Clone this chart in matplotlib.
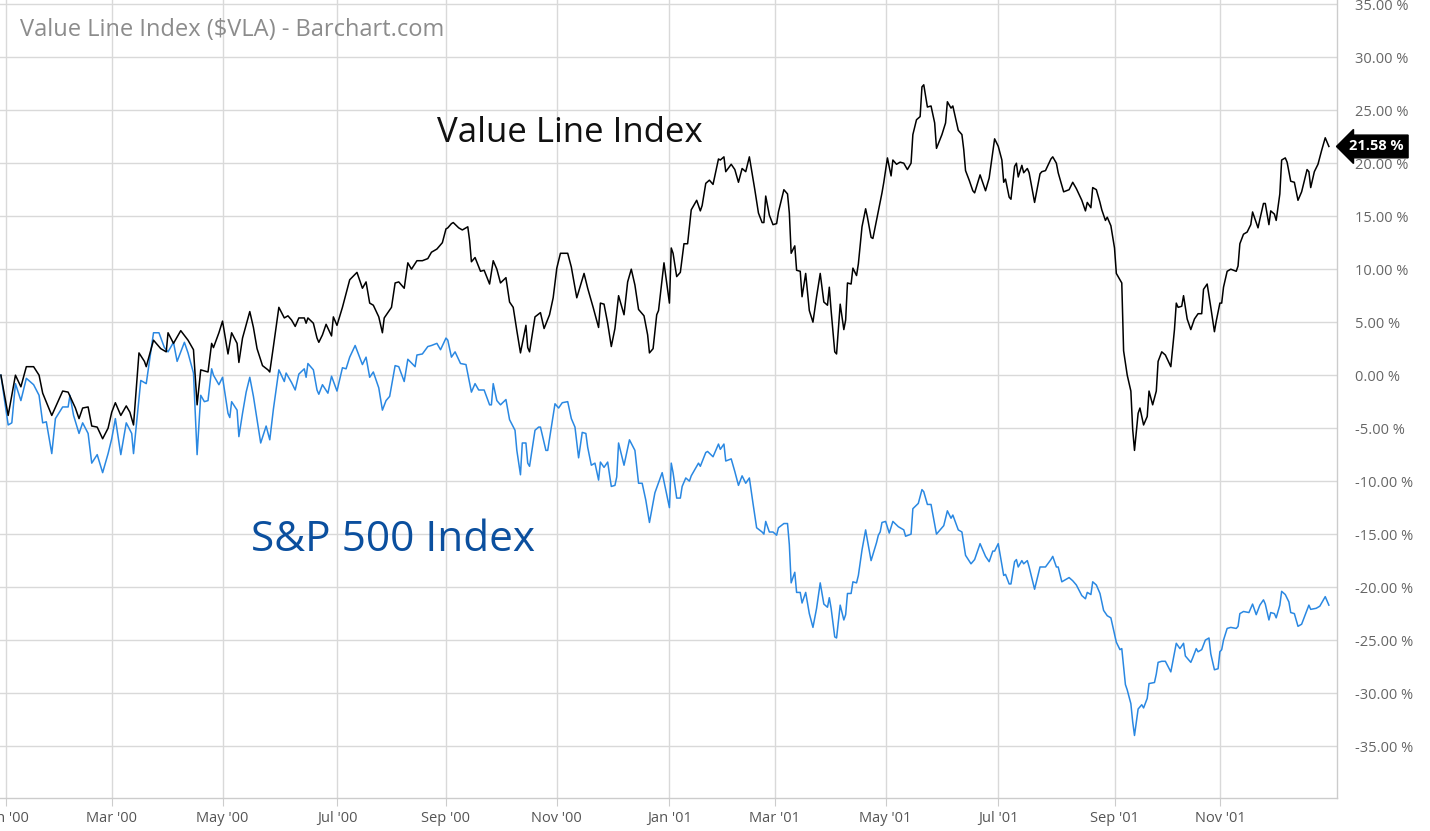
import pandas as pd
import matplotlib
matplotlib.use("Agg")
import matplotlib.pyplot as plt
import matplotlib.dates as mdates
from matplotlib.ticker import FuncFormatter, MultipleLocator
import matplotlib.transforms as mtransforms

plt.rcParams['font.family'] = ['Open Sans', 'DejaVu Sans']

# Value Line Index, % change since 1999-12-31
vla_dates = [
    '1999-12-31', '2000-01-04', '2000-01-08', '2000-01-11', '2000-01-14', '2000-01-18', '2000-01-21',
    '2000-01-23', '2000-01-28', '2000-02-03', '2000-02-06', '2000-02-10', '2000-02-12', '2000-02-14',
    '2000-02-17', '2000-02-19', '2000-02-22', '2000-02-25', '2000-02-28', '2000-03-01', '2000-03-03',
    '2000-03-06', '2000-03-09', '2000-03-11', '2000-03-13', '2000-03-16', '2000-03-19', '2000-03-20',
    '2000-03-24', '2000-03-28', '2000-03-31', '2000-04-01', '2000-04-04', '2000-04-08', '2000-04-12',
    '2000-04-15', '2000-04-17', '2000-04-19', '2000-04-23', '2000-04-25', '2000-04-26', '2000-04-29',
    '2000-05-01', '2000-05-04', '2000-05-06', '2000-05-09', '2000-05-10', '2000-05-12', '2000-05-16',
    '2000-05-18', '2000-05-20', '2000-05-23', '2000-05-26', '2000-05-27', '2000-05-29', '2000-06-01',
    '2000-06-04', '2000-06-06', '2000-06-08', '2000-06-10', '2000-06-12', '2000-06-15', '2000-06-16',
    '2000-06-17', '2000-06-20', '2000-06-22', '2000-06-23', '2000-06-25', '2000-06-27', '2000-06-30',
    '2000-07-01', '2000-07-03', '2000-07-06', '2000-07-08', '2000-07-10', '2000-07-14', '2000-07-17',
    '2000-07-19', '2000-07-21', '2000-07-23', '2000-07-26', '2000-07-28', '2000-07-29', '2000-08-02',
    '2000-08-04', '2000-08-06', '2000-08-09', '2000-08-11', '2000-08-13', '2000-08-16', '2000-08-19',
    '2000-08-22', '2000-08-24', '2000-08-27', '2000-08-30', '2000-09-01', '2000-09-02', '2000-09-04',
    '2000-09-05', '2000-09-08', '2000-09-10', '2000-09-13', '2000-09-14', '2000-09-15', '2000-09-17',
    '2000-09-20', '2000-09-22', '2000-09-25', '2000-09-27', '2000-09-29', '2000-10-01', '2000-10-04',
    '2000-10-06', '2000-10-08', '2000-10-10', '2000-10-12', '2000-10-15', '2000-10-16', '2000-10-17',
    '2000-10-20', '2000-10-23', '2000-10-25', '2000-10-28', '2000-10-30', '2000-11-01', '2000-11-03',
    '2000-11-07', '2000-11-09', '2000-11-12', '2000-11-16', '2000-11-18', '2000-11-21', '2000-11-24',
    '2000-11-25', '2000-11-27', '2000-11-29', '2000-12-01', '2000-12-03', '2000-12-05', '2000-12-08',
    '2000-12-10', '2000-12-12', '2000-12-14', '2000-12-16', '2000-12-19', '2000-12-21', '2000-12-22',
    '2000-12-24', '2000-12-26', '2000-12-27', '2000-12-30', '2001-01-02', '2001-01-03', '2001-01-04',
    '2001-01-06', '2001-01-08', '2001-01-10', '2001-01-12', '2001-01-14', '2001-01-17', '2001-01-19',
    '2001-01-20', '2001-01-22', '2001-01-24', '2001-01-26', '2001-01-29', '2001-01-30', '2001-02-01',
    '2001-02-02', '2001-02-05', '2001-02-07', '2001-02-09', '2001-02-11', '2001-02-13', '2001-02-15',
    '2001-02-18', '2001-02-20', '2001-02-22', '2001-02-23', '2001-02-24', '2001-02-26', '2001-02-28',
    '2001-03-02', '2001-03-03', '2001-03-06', '2001-03-08', '2001-03-09', '2001-03-10', '2001-03-12',
    '2001-03-13', '2001-03-15', '2001-03-16', '2001-03-18', '2001-03-20', '2001-03-22', '2001-03-24',
    '2001-03-26', '2001-03-28', '2001-03-30', '2001-03-31', '2001-04-01', '2001-04-03', '2001-04-04',
    '2001-04-06', '2001-04-08', '2001-04-09', '2001-04-10', '2001-04-12', '2001-04-13', '2001-04-15',
    '2001-04-16', '2001-04-18', '2001-04-20', '2001-04-21', '2001-04-23', '2001-04-24', '2001-04-26',
    '2001-04-27', '2001-04-29', '2001-04-30', '2001-05-02', '2001-05-04', '2001-05-05', '2001-05-07',
    '2001-05-09', '2001-05-11', '2001-05-13', '2001-05-15', '2001-05-16', '2001-05-18', '2001-05-20',
    '2001-05-21', '2001-05-22', '2001-05-24', '2001-05-26', '2001-05-28', '2001-05-29', '2001-06-01',
    '2001-06-03', '2001-06-04', '2001-06-06', '2001-06-07', '2001-06-10', '2001-06-12', '2001-06-13',
    '2001-06-14', '2001-06-16', '2001-06-18', '2001-06-19', '2001-06-22', '2001-06-25', '2001-06-27',
    '2001-06-30', '2001-07-02', '2001-07-04', '2001-07-05', '2001-07-06', '2001-07-08', '2001-07-09',
    '2001-07-11', '2001-07-12', '2001-07-13', '2001-07-15', '2001-07-16', '2001-07-18', '2001-07-19',
    '2001-07-22', '2001-07-25', '2001-07-26', '2001-07-28', '2001-07-31', '2001-08-01', '2001-08-03',
    '2001-08-04', '2001-08-07', '2001-08-10', '2001-08-12', '2001-08-14', '2001-08-17', '2001-08-19',
    '2001-08-20', '2001-08-22', '2001-08-23', '2001-08-25', '2001-08-27', '2001-08-28', '2001-08-30',
    '2001-08-31', '2001-09-02', '2001-09-04', '2001-09-05', '2001-09-08', '2001-09-09', '2001-09-11',
    '2001-09-13', '2001-09-14', '2001-09-15', '2001-09-17', '2001-09-18', '2001-09-20', '2001-09-22',
    '2001-09-23', '2001-09-25', '2001-09-27', '2001-09-28', '2001-09-30', '2001-10-02', '2001-10-05',
    '2001-10-07', '2001-10-08', '2001-10-09', '2001-10-11', '2001-10-12', '2001-10-14', '2001-10-16',
    '2001-10-18', '2001-10-20', '2001-10-22', '2001-10-23', '2001-10-25', '2001-10-27', '2001-10-29',
    '2001-10-30', '2001-11-01', '2001-11-02', '2001-11-03', '2001-11-05', '2001-11-07', '2001-11-10',
    '2001-11-11', '2001-11-12', '2001-11-14', '2001-11-16', '2001-11-18', '2001-11-19', '2001-11-22',
    '2001-11-23', '2001-11-25', '2001-11-26', '2001-11-28', '2001-11-29', '2001-12-01', '2001-12-02',
    '2001-12-04', '2001-12-05', '2001-12-07', '2001-12-08', '2001-12-10', '2001-12-12', '2001-12-14',
    '2001-12-16', '2001-12-19', '2001-12-20', '2001-12-21', '2001-12-23', '2001-12-25', '2001-12-27',
    '2001-12-29', '2001-12-31',
]
vla_pct = [
    0.0, -3.8, 0.0, -1.1, 0.8, 0.8, 0.0,
    -1.7, -3.8, -1.5, -1.6, -3.1, -4.1, -3.1,
    -3.0, -4.8, -4.9, -6.0, -5.0, -3.5, -2.6,
    -3.8, -2.9, -3.5, -4.7, 2.1, 1.3, 0.8,
    3.3, 2.5, 2.2, 4.0, 3.0, 4.2, 3.3,
    2.4, -2.8, 0.5, 0.3, 3.0, 2.6, 4.0,
    5.1, 2.0, 4.0, 3.0, 1.2, 3.5, 6.0,
    4.5, 2.5, 0.9, 0.5, 0.3, 2.7, 6.4,
    5.4, 5.6, 5.2, 4.6, 5.4, 5.4, 4.9,
    5.4, 4.9, 3.5, 3.1, 3.8, 4.8, 3.7,
    5.5, 4.7, 6.4, 7.7, 9.0, 9.7, 8.2,
    8.8, 6.8, 6.6, 5.5, 4.0, 5.4, 6.4,
    8.7, 8.8, 8.2, 10.6, 10.0, 10.8, 10.8,
    11.0, 11.6, 11.9, 12.5, 13.8, 13.9, 14.3,
    14.4, 13.9, 13.7, 14.0, 12.7, 10.7, 11.1,
    9.8, 9.9, 8.6, 10.8, 10.0, 8.7, 9.2,
    6.9, 6.4, 4.2, 2.1, 4.7, 2.6, 2.2,
    5.5, 5.9, 4.4, 5.7, 7.3, 10.1, 11.5,
    11.5, 10.2, 7.3, 9.6, 8.2, 6.4, 4.5,
    6.8, 6.7, 4.9, 2.7, 4.4, 7.5, 5.7,
    8.8, 10.0, 8.5, 6.2, 5.6, 3.8, 2.1,
    2.5, 5.7, 6.1, 10.6, 6.8, 12.0, 11.5,
    9.3, 9.7, 12.4, 12.4, 15.6, 16.5, 15.5,
    16.0, 18.1, 18.4, 18.0, 20.4, 20.3, 20.6,
    19.2, 19.9, 19.4, 18.2, 19.5, 19.2, 20.6,
    17.5, 15.3, 14.4, 14.4, 16.9, 15.1, 14.2,
    14.3, 15.4, 17.5, 17.1, 15.3, 11.5, 12.2,
    9.9, 9.8, 7.4, 9.6, 6.1, 5.0, 7.4,
    9.6, 6.9, 6.6, 8.3, 6.1, 2.2, 2.0,
    6.7, 4.3, 5.2, 8.7, 8.6, 10.1, 9.4,
    10.5, 14.0, 15.7, 14.9, 13.0, 12.9, 14.6,
    15.4, 17.2, 18.2, 20.5, 18.8, 20.3, 19.9,
    20.1, 20.0, 19.4, 20.0, 22.7, 24.1, 24.4,
    27.2, 27.4, 25.3, 25.4, 23.8, 21.4, 22.7,
    23.8, 25.8, 25.2, 25.4, 23.1, 22.7, 21.3,
    19.3, 18.4, 17.4, 17.2, 18.9, 17.4, 18.6,
    22.3, 21.6, 20.3, 18.2, 18.5, 16.8, 16.6,
    19.7, 20.0, 18.7, 19.8, 19.1, 19.5, 19.1,
    16.3, 19.0, 19.2, 19.3, 20.4, 20.6, 20.0,
    19.1, 17.3, 17.5, 18.2, 17.6, 16.5, 15.5,
    16.3, 15.8, 17.7, 17.5, 16.3, 15.6, 14.6,
    14.9, 14.1, 12.0, 9.6, 8.7, 2.3, 0.0,
    -1.5, -5.1, -7.1, -3.6, -3.1, -4.7, -3.9,
    -1.5, -2.8, -1.5, 1.3, 2.2, 1.9, 0.8,
    4.3, 6.8, 6.4, 6.5, 7.5, 5.3, 4.3,
    5.3, 5.8, 5.8, 8.1, 8.6, 6.4, 4.1,
    5.1, 6.8, 6.8, 8.3, 9.8, 10.0, 9.8,
    10.3, 12.4, 13.3, 13.5, 14.2, 15.4, 13.9,
    14.7, 16.2, 16.2, 14.2, 15.5, 15.2, 14.6,
    17.1, 20.3, 20.5, 20.1, 18.3, 18.2, 16.5,
    17.3, 19.4, 19.2, 17.7, 19.2, 19.9, 21.2,
    22.4, 21.58,
]

# S&P 500 Index, % change since 1999-12-31
spx_dates = [
    '1999-12-31', '2000-01-04', '2000-01-06', '2000-01-08', '2000-01-11', '2000-01-14', '2000-01-18',
    '2000-01-21', '2000-01-23', '2000-01-25', '2000-01-28', '2000-01-30', '2000-02-03', '2000-02-06',
    '2000-02-07', '2000-02-09', '2000-02-12', '2000-02-14', '2000-02-17', '2000-02-19', '2000-02-22',
    '2000-02-25', '2000-02-28', '2000-03-01', '2000-03-03', '2000-03-06', '2000-03-09', '2000-03-12',
    '2000-03-13', '2000-03-17', '2000-03-20', '2000-03-24', '2000-03-27', '2000-03-30', '2000-04-01',
    '2000-04-04', '2000-04-06', '2000-04-10', '2000-04-12', '2000-04-15', '2000-04-17', '2000-04-19',
    '2000-04-21', '2000-04-23', '2000-04-25', '2000-04-26', '2000-04-29', '2000-05-01', '2000-05-04',
    '2000-05-05', '2000-05-06', '2000-05-09', '2000-05-10', '2000-05-12', '2000-05-14', '2000-05-16',
    '2000-05-18', '2000-05-20', '2000-05-22', '2000-05-25', '2000-05-27', '2000-05-29', '2000-06-01',
    '2000-06-04', '2000-06-05', '2000-06-08', '2000-06-10', '2000-06-12', '2000-06-15', '2000-06-16',
    '2000-06-17', '2000-06-20', '2000-06-22', '2000-06-23', '2000-06-25', '2000-06-28', '2000-06-30',
    '2000-07-03', '2000-07-06', '2000-07-08', '2000-07-10', '2000-07-13', '2000-07-17', '2000-07-19',
    '2000-07-21', '2000-07-23', '2000-07-26', '2000-07-28', '2000-07-30', '2000-08-01', '2000-08-04',
    '2000-08-06', '2000-08-09', '2000-08-11', '2000-08-15', '2000-08-16', '2000-08-19', '2000-08-22',
    '2000-08-24', '2000-08-27', '2000-08-29', '2000-09-01', '2000-09-02', '2000-09-04', '2000-09-06',
    '2000-09-09', '2000-09-12', '2000-09-15', '2000-09-17', '2000-09-19', '2000-09-22', '2000-09-25',
    '2000-09-26', '2000-09-27', '2000-09-29', '2000-10-01', '2000-10-04', '2000-10-06', '2000-10-09',
    '2000-10-10', '2000-10-12', '2000-10-13', '2000-10-15', '2000-10-16', '2000-10-17', '2000-10-20',
    '2000-10-22', '2000-10-23', '2000-10-26', '2000-10-27', '2000-10-29', '2000-10-31', '2000-11-02',
    '2000-11-04', '2000-11-07', '2000-11-09', '2000-11-11', '2000-11-13', '2000-11-15', '2000-11-17',
    '2000-11-18', '2000-11-20', '2000-11-22', '2000-11-24', '2000-11-25', '2000-11-27', '2000-11-29',
    '2000-12-01', '2000-12-03', '2000-12-04', '2000-12-05', '2000-12-08', '2000-12-11', '2000-12-14',
    '2000-12-16', '2000-12-18', '2000-12-20', '2000-12-22', '2000-12-25', '2000-12-29', '2001-01-02',
    '2001-01-03', '2001-01-04', '2001-01-06', '2001-01-08', '2001-01-09', '2001-01-11', '2001-01-13',
    '2001-01-14', '2001-01-18', '2001-01-19', '2001-01-22', '2001-01-23', '2001-01-26', '2001-01-29',
    '2001-01-30', '2001-02-01', '2001-02-02', '2001-02-05', '2001-02-07', '2001-02-09', '2001-02-11',
    '2001-02-13', '2001-02-15', '2001-02-17', '2001-02-19', '2001-02-22', '2001-02-23', '2001-02-24',
    '2001-02-26', '2001-02-28', '2001-03-02', '2001-03-03', '2001-03-06', '2001-03-08', '2001-03-09',
    '2001-03-10', '2001-03-12', '2001-03-13', '2001-03-15', '2001-03-16', '2001-03-18', '2001-03-20',
    '2001-03-22', '2001-03-24', '2001-03-26', '2001-03-28', '2001-03-30', '2001-03-31', '2001-04-01',
    '2001-04-03', '2001-04-04', '2001-04-06', '2001-04-08', '2001-04-09', '2001-04-10', '2001-04-12',
    '2001-04-13', '2001-04-15', '2001-04-16', '2001-04-18', '2001-04-20', '2001-04-21', '2001-04-23',
    '2001-04-26', '2001-04-27', '2001-04-28', '2001-04-29', '2001-05-01', '2001-05-03', '2001-05-05',
    '2001-05-08', '2001-05-11', '2001-05-12', '2001-05-15', '2001-05-16', '2001-05-19', '2001-05-21',
    '2001-05-22', '2001-05-24', '2001-05-26', '2001-05-29', '2001-06-02', '2001-06-04', '2001-06-06',
    '2001-06-07', '2001-06-10', '2001-06-12', '2001-06-14', '2001-06-17', '2001-06-19', '2001-06-22',
    '2001-06-25', '2001-06-27', '2001-06-29', '2001-06-30', '2001-07-02', '2001-07-03', '2001-07-05',
    '2001-07-06', '2001-07-08', '2001-07-09', '2001-07-11', '2001-07-12', '2001-07-13', '2001-07-15',
    '2001-07-16', '2001-07-18', '2001-07-19', '2001-07-22', '2001-07-25', '2001-07-26', '2001-07-28',
    '2001-07-31', '2001-08-01', '2001-08-03', '2001-08-04', '2001-08-06', '2001-08-10', '2001-08-12',
    '2001-08-14', '2001-08-17', '2001-08-19', '2001-08-20', '2001-08-22', '2001-08-23', '2001-08-25',
    '2001-08-27', '2001-08-29', '2001-08-31', '2001-09-02', '2001-09-05', '2001-09-07', '2001-09-08',
    '2001-09-10', '2001-09-11', '2001-09-13', '2001-09-14', '2001-09-15', '2001-09-17', '2001-09-19',
    '2001-09-20', '2001-09-22', '2001-09-23', '2001-09-26', '2001-09-27', '2001-09-28', '2001-09-30',
    '2001-10-02', '2001-10-05', '2001-10-08', '2001-10-10', '2001-10-12', '2001-10-13', '2001-10-16',
    '2001-10-17', '2001-10-19', '2001-10-20', '2001-10-22', '2001-10-24', '2001-10-26', '2001-10-27',
    '2001-10-29', '2001-10-31', '2001-11-01', '2001-11-02', '2001-11-03', '2001-11-05', '2001-11-07',
    '2001-11-10', '2001-11-11', '2001-11-12', '2001-11-14', '2001-11-17', '2001-11-19', '2001-11-21',
    '2001-11-23', '2001-11-25', '2001-11-26', '2001-11-28', '2001-11-29', '2001-12-01', '2001-12-02',
    '2001-12-04', '2001-12-05', '2001-12-07', '2001-12-09', '2001-12-10', '2001-12-12', '2001-12-14',
    '2001-12-16', '2001-12-18', '2001-12-20', '2001-12-21', '2001-12-24', '2001-12-26', '2001-12-28',
    '2001-12-29', '2001-12-31',
]
spx_pct = [
    0.0, -4.7, -4.5, -0.8, -2.4, -0.3, -0.9,
    -1.9, -4.5, -4.4, -7.4, -4.1, -3.0, -3.0,
    -1.9, -3.8, -5.5, -4.5, -5.5, -8.3, -7.5,
    -9.2, -7.4, -6.0, -4.1, -7.5, -4.5, -5.5,
    -7.4, -0.5, -0.8, 4.0, 4.0, 2.6, 2.2,
    3.1, 1.3, 3.1, 2.1, 0.2, -7.5, -1.9,
    -2.5, -2.4, 0.6, 0.0, -0.9, -0.2, -3.6,
    -4.0, -2.5, -3.3, -5.8, -3.6, -1.6, -0.2,
    -2.0, -4.2, -6.4, -4.8, -6.1, -3.2, 0.5,
    -0.6, 0.2, -0.7, -1.4, 0.1, 0.6, -0.2,
    1.1, 0.5, -1.4, -1.8, -0.9, -1.7, -0.1,
    -1.5, 0.7, 0.6, 1.7, 2.8, 1.0, 1.7,
    -0.2, 0.3, -1.2, -3.3, -2.4, -2.0, 0.9,
    0.8, -0.6, 1.5, 0.8, 1.9, 2.0, 2.7,
    2.8, 3.0, 2.4, 3.5, 3.3, 1.7, 2.2,
    1.1, 1.0, -1.6, -0.8, -1.4, -1.4, -2.8,
    -2.8, -0.8, -2.4, -2.8, -2.3, -4.2, -5.2,
    -7.1, -9.4, -6.4, -6.4, -8.3, -8.6, -5.2,
    -4.9, -4.9, -7.1, -7.1, -4.9, -2.7, -3.1,
    -2.6, -2.5, -4.1, -4.9, -7.8, -5.4, -5.5,
    -6.8, -8.5, -8.3, -9.9, -8.2, -8.7, -8.2,
    -10.5, -10.4, -9.6, -6.4, -8.5, -6.1, -7.1,
    -10.2, -10.2, -11.8, -13.9, -11.1, -9.2, -12.5,
    -8.3, -9.2, -11.6, -11.6, -10.5, -9.7, -10.0,
    -9.5, -8.3, -8.6, -7.3, -7.2, -7.7, -6.5,
    -7.0, -6.5, -8.1, -7.9, -9.1, -10.4, -9.5,
    -10.2, -9.7, -12.1, -14.4, -14.8, -15.0, -13.8,
    -14.8, -14.8, -15.1, -14.4, -14.0, -14.0, -16.0,
    -19.6, -18.6, -20.5, -20.5, -21.5, -20.5, -22.5,
    -23.8, -22.0, -19.6, -21.6, -21.9, -21.0, -22.0,
    -24.7, -24.8, -21.7, -23.1, -22.6, -20.6, -20.6,
    -19.5, -19.6, -18.9, -16.5, -14.6, -15.6, -17.5,
    -15.8, -15.1, -14.8, -13.9, -13.8, -14.9, -13.8,
    -14.3, -14.6, -15.2, -15.0, -12.6, -12.1, -10.8,
    -11.0, -12.2, -12.2, -15.0, -14.2, -12.8, -13.5,
    -13.2, -14.6, -14.8, -17.0, -17.8, -17.4, -15.9,
    -17.1, -17.6, -16.6, -16.6, -15.9, -16.9, -18.9,
    -18.8, -19.7, -19.7, -17.6, -17.4, -18.1, -17.5,
    -17.8, -17.5, -18.1, -20.2, -18.1, -18.1, -18.1,
    -17.4, -17.1, -18.1, -18.1, -19.5, -19.1, -19.4,
    -19.8, -20.8, -21.1, -20.5, -20.7, -19.5, -19.8,
    -20.6, -22.2, -22.7, -22.9, -25.2, -25.9, -25.8,
    -29.2, -29.7, -31.0, -32.7, -34.0, -31.5, -31.1,
    -31.4, -30.5, -29.1, -29.0, -28.2, -27.1, -27.0,
    -27.0, -28.0, -25.3, -25.8, -25.3, -26.5, -27.1,
    -26.7, -25.8, -26.1, -25.9, -25.0, -24.8, -26.3,
    -27.8, -27.7, -26.1, -25.9, -25.0, -23.9, -23.8,
    -23.9, -23.7, -22.5, -22.3, -22.4, -21.6, -22.6,
    -21.7, -21.2, -21.6, -23.1, -22.4, -22.5, -22.9,
    -21.7, -20.4, -20.7, -21.4, -22.4, -22.5, -23.7,
    -23.5, -22.6, -21.7, -22.1, -22.0, -21.8, -21.2,
    -20.9, -21.7,
]

# month ticks sit on the first trading day of every second month
tick_dates = ['2000-01-03', '2000-03-01', '2000-05-01', '2000-07-03', '2000-09-01', '2000-11-01',
              '2001-01-02', '2001-03-01', '2001-05-01', '2001-07-02', '2001-09-04', '2001-11-01']

vla = pd.Series(vla_pct, index=pd.to_datetime(vla_dates))
spx = pd.Series(spx_pct, index=pd.to_datetime(spx_dates))

fig = plt.figure(figsize=(14.30, 8.31), dpi=100)
ax = fig.add_axes([0.0, 0.0397, 0.935, 0.9603])

grid_c = '#d9d9d9'
ax.plot(spx.index, spx.values, color='#2a88e2', lw=1.1, zorder=3)
ax.plot(vla.index, vla.values, color='#000000', lw=1.1, zorder=4)

ax.set_xlim(pd.Timestamp('1999-12-30 12:00'), pd.Timestamp('2002-01-04 12:00'))
ax.set_ylim(-39.9, 35.4)

ax.set_xticks(pd.to_datetime(tick_dates))
ax.xaxis.set_major_formatter(mdates.DateFormatter("%b '%y"))
ax.yaxis.set_major_locator(MultipleLocator(5))
ax.yaxis.set_major_formatter(FuncFormatter(lambda v, p: '%.2f %%' % v))
ax.yaxis.tick_right()

ax.grid(True, color=grid_c, lw=1.0, zorder=0)
for side in ['left', 'top']:
    ax.spines[side].set_visible(False)
for side in ['right', 'bottom']:
    ax.spines[side].set_color('#cccccc')
    ax.spines[side].set_linewidth(1.0)

ax.tick_params(axis='x', length=6, color='#cccccc', labelsize=10.5, labelcolor='#555555', pad=3)
ax.tick_params(axis='y', length=0, labelsize=10.5, labelcolor='#666666', pad=13)

# titles and series labels
fig.text(20 / 1430, 1 - 30 / 831, 'Value Line Index ($VLA) - Barchart.com',
         fontsize=17, color='#8c8c8c', ha='left', va='center')
ax.text(0.327, 0.833, 'Value Line Index', transform=ax.transAxes,
        fontsize=25, color='#111111', ha='left', va='center')
ax.text(0.188, 0.323, 'S&P 500 Index', transform=ax.transAxes,
        fontsize=30.5, color='#0b4f9e', ha='left', va='center')

# last value flag on the right axis
trans = mtransforms.blended_transform_factory(ax.transAxes, ax.transData)
ax.text(1.009, vla_pct[-1], '%.2f %%' % vla_pct[-1], transform=trans,
        fontsize=10.5, fontweight='bold', color='white', ha='left', va='center',
        bbox=dict(boxstyle='larrow,pad=0.3', fc='black', ec='black'), clip_on=False, zorder=6)

fig.savefig('out.png', dpi=100)
